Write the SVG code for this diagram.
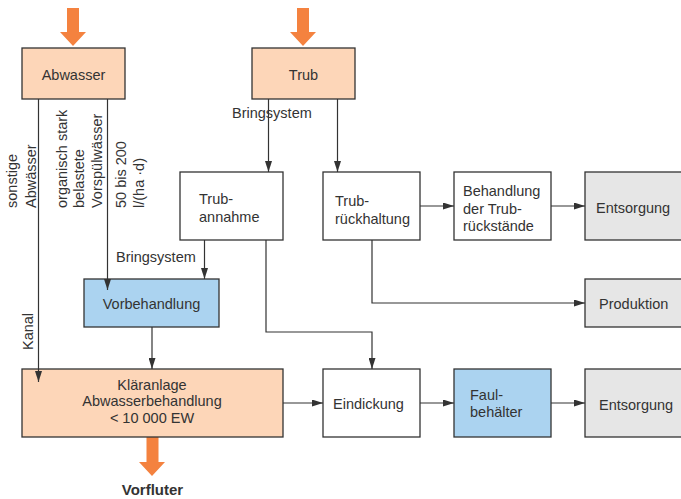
<svg xmlns="http://www.w3.org/2000/svg" width="681" height="499" viewBox="0 0 681 499">
<style>
text{font-family:"Liberation Sans",Arial,sans-serif;font-size:14.5px;fill:#333}
.box{stroke:#333;stroke-width:1.3}
.peach{fill:#FDD6B8}
.white{fill:#fff}
.blue{fill:#ABD3F0}
.grey{fill:#E6E6E6}
.conn{fill:none;stroke:#333;stroke-width:1.2;marker-end:url(#ah)}
.big{fill:#F4823F}
.c{text-anchor:middle}
</style>
<defs>
<marker id="ah" markerUnits="userSpaceOnUse" markerWidth="11" markerHeight="7" refX="11" refY="3.5" orient="auto">
<path d="M0,0 L11,3.5 L0,7 z" fill="#333"/>
</marker>
</defs>
<rect width="681" height="499" fill="#fff"/>

<g id="inputs">
<path class="big" d="M67,8 H79 V32 H86 L73,46 L60,32 H67 z"/>
<path class="big" d="M297,8 H309 V32 H316 L303,46 L290,32 H297 z"/>
<path class="big" d="M146.5,437 H158.5 V462 H165 L152,476 L139,462 H146.5 z"/>
</g>

<g id="labels">
<text x="232" y="118">Bringsystem</text>
<text x="116" y="262">Bringsystem</text>
<text transform="translate(17,208) rotate(-90)">sonstige</text>
<text transform="translate(35.5,208) rotate(-90)">Abwässer</text>
<text transform="translate(66.5,208) rotate(-90)">organisch stark</text>
<text transform="translate(84,208) rotate(-90)">belastete</text>
<text transform="translate(101.5,208) rotate(-90)">Vorspülwässer</text>
<text transform="translate(126,208) rotate(-90)">50 bis 200</text>
<text transform="translate(143.5,208) rotate(-90)">l/(ha ·d)</text>
<text transform="translate(33,350) rotate(-90)">Kanal</text>
<text x="152.5" y="495" class="c" style="font-weight:bold;font-size:15px">Vorfluter</text>
</g>

<g id="abwasser">
<rect class="box peach" x="22" y="48" width="103" height="51"/>
<text x="73.5" y="80" class="c">Abwasser</text>
</g>
<g id="trub">
<rect class="box peach" x="252" y="48" width="103" height="51"/>
<text x="303.5" y="80" class="c">Trub</text>
</g>
<g id="trubannahme">
<rect class="box white" x="180" y="172" width="103" height="68"/>
<text x="199" y="203.5">Trub-</text>
<text x="199" y="221.5">annahme</text>
</g>
<g id="trubrueckhaltung">
<rect class="box white" x="323" y="172" width="97" height="68"/>
<text x="335" y="206">Trub-</text>
<text x="335" y="224">rückhaltung</text>
</g>
<g id="behandlung">
<rect class="box white" x="454" y="172" width="97" height="68"/>
<text x="463" y="196">Behandlung</text>
<text x="463" y="213.5">der Trub-</text>
<text x="463" y="231">rückstände</text>
</g>
<g id="entsorgung1">
<rect class="box grey" x="585" y="172" width="100" height="68"/>
<text x="596" y="212.5">Entsorgung</text>
</g>
<g id="produktion">
<rect class="box grey" x="585" y="279" width="100" height="48"/>
<text x="599" y="308.5">Produktion</text>
</g>
<g id="vorbehandlung">
<rect class="box blue" x="84" y="279" width="135" height="48"/>
<text x="151.5" y="308.5" class="c">Vorbehandlung</text>
</g>
<g id="klaeranlage">
<rect class="box peach" x="22" y="369" width="261" height="68"/>
<text x="152" y="389.5" class="c">Kläranlage</text>
<text x="152" y="406" class="c">Abwasserbehandlung</text>
<text x="152" y="423" class="c">&lt; 10 000 EW</text>
</g>
<g id="eindickung">
<rect class="box white" x="323" y="369" width="97" height="68"/>
<text x="333" y="408.5">Eindickung</text>
</g>
<g id="faulbehaelter">
<rect class="box blue" x="454" y="369" width="97" height="68"/>
<text x="470" y="399.5">Faul-</text>
<text x="470" y="417">behälter</text>
</g>
<g id="entsorgung2">
<rect class="box grey" x="585" y="369" width="100" height="68"/>
<text x="599" y="410">Entsorgung</text>
</g>

<g id="connectors">
<path class="conn" d="M268.5,99 V172"/>
<path class="conn" d="M337.5,99 V172"/>
<path class="conn" d="M420,206 H454"/>
<path class="conn" d="M551,206 H585"/>
<path class="conn" d="M372,240 V303 H585"/>
<path class="conn" d="M266,240 V332 H372 V369"/>
<path class="conn" d="M204.5,240 V279"/>
<path class="conn" d="M107.5,99 V290"/>
<path class="conn" d="M38.5,99 V382"/>
<path class="conn" d="M152,327 V369"/>
<path class="conn" d="M283,403 H323"/>
<path class="conn" d="M420,403 H454"/>
<path class="conn" d="M551,403 H585"/>
</g>
</svg>
